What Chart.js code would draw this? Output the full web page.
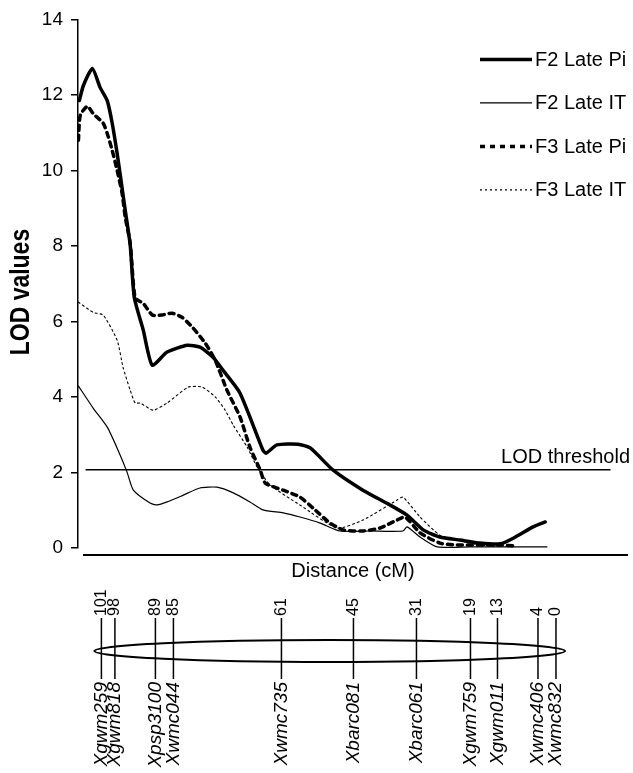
<!DOCTYPE html>
<html>
<head>
<meta charset="utf-8">
<script src="https://cdn.jsdelivr.net/npm/chart.js@4.4.1/dist/chart.umd.min.js"></script>
<style>
  html, body { margin: 0; padding: 0; background: #fff; }
  #wrap { width: 633px; height: 773px; }
</style>
</head>
<body>
<div id="wrap"><canvas id="lod" width="633" height="773"></canvas></div>
<script>
// values: x = map position (cM), y = LOD
const yTicks = [0, 2, 4, 6, 8, 10, 12, 14];
const threshold = 2.07;
const seriesNames = ['F2 Late Pi', 'F2 Late IT', 'F3 Late Pi', 'F3 Late IT'];

const f2PiCM  = [105.9, 105.0, 103.0, 101.3, 99.7, 98.6, 97.5, 96.8, 95.7, 94.6, 93.7, 91.7, 89.7, 86.4, 81.9, 79.1, 76.2, 74.0, 70.2, 65.1, 64.4, 62.0, 57.3, 54.6, 49.5, 42.9, 36.9, 33.1, 29.5, 25.8, 21.3, 16.9, 12.4, 9.5, 5.1, 2.4];
const f2PiLOD = [11.85, 12.25, 12.70, 12.20, 11.85, 11.25, 10.45, 9.87, 8.94, 8.02, 6.64, 5.77, 4.84, 5.19, 5.37, 5.32, 5.05, 4.71, 4.10, 2.59, 2.51, 2.73, 2.75, 2.65, 2.06, 1.53, 1.14, 0.87, 0.48, 0.29, 0.21, 0.13, 0.11, 0.26, 0.56, 0.69];

const f2ItCM  = [106.1, 102.8, 99.7, 97.3, 95.3, 93.9, 90.2, 88.6, 86.4, 82.8, 79.1, 75.3, 71.7, 68.0, 65.1, 60.6, 56.9, 52.4, 48.0, 41.3, 34.0, 33.1, 30.2, 26.4, 19.1, 2.0];
const f2ItLOD = [4.29, 3.70, 3.20, 2.59, 2.01, 1.53, 1.19, 1.14, 1.22, 1.40, 1.59, 1.61, 1.46, 1.22, 1.01, 0.93, 0.82, 0.66, 0.45, 0.45, 0.45, 0.56, 0.29, 0.03, 0.03, 0.03];

const f3PiCM  = [106.1, 105.7, 104.1, 102.8, 100.6, 99.5, 98.6, 97.5, 96.4, 95.7, 94.6, 93.5, 91.7, 89.7, 87.5, 85.3, 83.1, 80.8, 77.9, 75.7, 73.1, 70.2, 68.0, 65.7, 64.6, 60.6, 56.9, 54.0, 50.2, 47.3, 42.9, 39.1, 35.3, 33.5, 30.2, 25.8, 22.0, 12.4, 8.7];
const f3PiLOD = [10.8, 11.46, 11.7, 11.5, 11.25, 10.9, 10.53, 10.0, 9.39, 8.76, 8.07, 6.62, 6.48, 6.17, 6.17, 6.22, 6.11, 5.85, 5.42, 4.97, 4.18, 3.47, 2.67, 2.06, 1.72, 1.53, 1.35, 1.06, 0.66, 0.48, 0.45, 0.53, 0.74, 0.82, 0.40, 0.13, 0.08, 0.08, 0.05];

const f3ItCM  = [106.1, 102.8, 100.6, 97.5, 96.2, 94.6, 93.5, 92.4, 89.5, 86.4, 81.7, 78.6, 75.7, 73.5, 71.7, 68.6, 66.4, 63.5, 56.9, 48.6, 42.9, 35.3, 34.0, 30.2, 25.8, 22.0, 16.9, 12.4];
const f3ItLOD = [6.51, 6.24, 6.17, 5.50, 4.79, 4.18, 3.84, 3.84, 3.65, 3.84, 4.26, 4.26, 4.00, 3.65, 3.25, 2.67, 2.14, 1.67, 1.14, 0.53, 0.74, 1.27, 1.35, 0.82, 0.34, 0.21, 0.08, 0.05];

// linkage map under the plot
const markerNames = ['Xgwm259', 'Xgwm818', 'Xpsp3100', 'Xwmc044', 'Xwmc735', 'Xbarc081', 'Xbarc061', 'Xgwm759', 'Xgwm011', 'Xwmc406', 'Xwmc832'];
const markerCM = [101, 98, 89, 85, 61, 45, 31, 19, 13, 4, 0];

const SANS = "'Liberation Sans', Arial, sans-serif";

function pts(xs, ys) {
    return xs.map((x, i) => ({ x: x, y: ys[i] }));
}

const extras = {
    id: 'extras',
    afterDraw(chart) {
        const ctx = chart.ctx;
        const area = chart.chartArea;
        const xs = chart.scales.x;
        const ys = chart.scales.y;
        const base = ys.getPixelForValue(0);

        ctx.save();
        ctx.fillStyle = '#000';
        ctx.strokeStyle = '#000';

        // separate distance axis below zero
        const axisY = base + 7;
        ctx.lineWidth = 2;
        ctx.beginPath();
        ctx.moveTo(area.left + 5, axisY);
        ctx.lineTo(area.right, axisY);
        ctx.stroke();

        ctx.font = '20px ' + SANS;
        ctx.textAlign = 'center';
        ctx.textBaseline = 'top';
        ctx.fillText('Distance (cM)', (area.left + area.right) / 2, axisY + 6);

        // y title (condensed like the original)
        ctx.save();
        ctx.translate(21, 292);
        ctx.rotate(-Math.PI / 2);
        ctx.scale(0.82, 1);
        ctx.font = 'bold 28px ' + SANS;
        ctx.textAlign = 'center';
        ctx.textBaseline = 'middle';
        ctx.fillText('LOD values', 0, 0);
        ctx.restore();

        // threshold label
        ctx.font = '20px ' + SANS;
        ctx.textAlign = 'right';
        ctx.textBaseline = 'alphabetic';
        ctx.fillText('LOD threshold', area.right + 2, ys.getPixelForValue(threshold) - 7);

        // legend
        chart.data.datasets.slice(0, seriesNames.length).forEach((ds, i) => {
            const y = area.top + 40 + i * 43.5;
            ctx.lineWidth = ds.borderWidth;
            ctx.setLineDash(ds.borderDash || []);
            ctx.beginPath();
            ctx.moveTo(area.right - 148, y);
            ctx.lineTo(area.right - 96, y);
            ctx.stroke();
            ctx.setLineDash([]);
            ctx.font = '20px ' + SANS;
            ctx.textAlign = 'left';
            ctx.textBaseline = 'middle';
            ctx.fillText(ds.label, area.right - 93, y + 1);
        });

        // chromosome
        const cy = 651;
        const leftTip = xs.getPixelForValue(Math.max(...markerCM)) - 7;
        const rightTip = xs.getPixelForValue(Math.min(...markerCM)) + 9;
        ctx.lineWidth = 2;
        ctx.beginPath();
        ctx.ellipse((leftTip + rightTip) / 2, cy, (rightTip - leftTip) / 2, 11, 0, 0, Math.PI * 2);
        ctx.stroke();

        markerCM.forEach((cm, i) => {
            const x = xs.getPixelForValue(cm);
            ctx.lineWidth = 1.5;
            ctx.beginPath();
            ctx.moveTo(x, cy - 33);
            ctx.lineTo(x, cy + 28);
            ctx.stroke();

            ctx.save();
            ctx.translate(x, cy - 35);
            ctx.rotate(-Math.PI / 2);
            ctx.font = '16px ' + SANS;
            ctx.textAlign = 'left';
            ctx.textBaseline = 'middle';
            ctx.fillText(String(cm), 0, 0);
            ctx.restore();

            ctx.save();
            ctx.translate(x, cy + 31);
            ctx.rotate(-Math.PI / 2);
            ctx.font = 'italic 19px ' + SANS;
            ctx.textAlign = 'right';
            ctx.textBaseline = 'middle';
            ctx.fillText(markerNames[i], 0, 0);
            ctx.restore();
        });

        ctx.restore();
    }
};

const common = { pointRadius: 0, fill: false, tension: 0.2, borderColor: '#000', borderCapStyle: 'round', borderJoinStyle: 'round' };

new Chart(document.getElementById('lod'), {
    type: 'line',
    data: {
        datasets: [
            Object.assign({ label: seriesNames[0], data: pts(f2PiCM, f2PiLOD), borderWidth: 3.5 }, common),
            Object.assign({ label: seriesNames[1], data: pts(f2ItCM, f2ItLOD), borderWidth: 1.2 }, common),
            Object.assign({ label: seriesNames[2], data: pts(f3PiCM, f3PiLOD), borderWidth: 3.5, borderDash: [5, 5] }, common),
            Object.assign({ label: seriesNames[3], data: pts(f3ItCM, f3ItLOD), borderWidth: 1.1, borderDash: [2, 3] }, common),
            Object.assign({ label: 'threshold', data: [{ x: 104.4, y: threshold }, { x: -12, y: threshold }], borderWidth: 1.5 }, common, { tension: 0 })
        ]
    },
    options: {
        responsive: false,
        animation: false,
        layout: { padding: { left: 0, right: 5, top: 19, bottom: 225 } },
        plugins: { legend: { display: false }, tooltip: { enabled: false } },
        scales: {
            x: { type: 'linear', min: -16, max: 106.2, reverse: true, display: false },
            y: {
                min: 0, max: 14,
                afterFit: s => { s.width = 78; },
                afterBuildTicks: s => { s.ticks = yTicks.map(v => ({ value: v })); },
                ticks: { color: '#000', padding: 8, font: { family: SANS, size: 19 } },
                grid: { display: true, drawOnChartArea: false, drawTicks: true, tickLength: 7, color: '#000', lineWidth: 1.5 },
                border: { display: true, color: '#000', width: 1.5 }
            }
        }
    },
    plugins: [extras]
});
</script>
</body>
</html>
